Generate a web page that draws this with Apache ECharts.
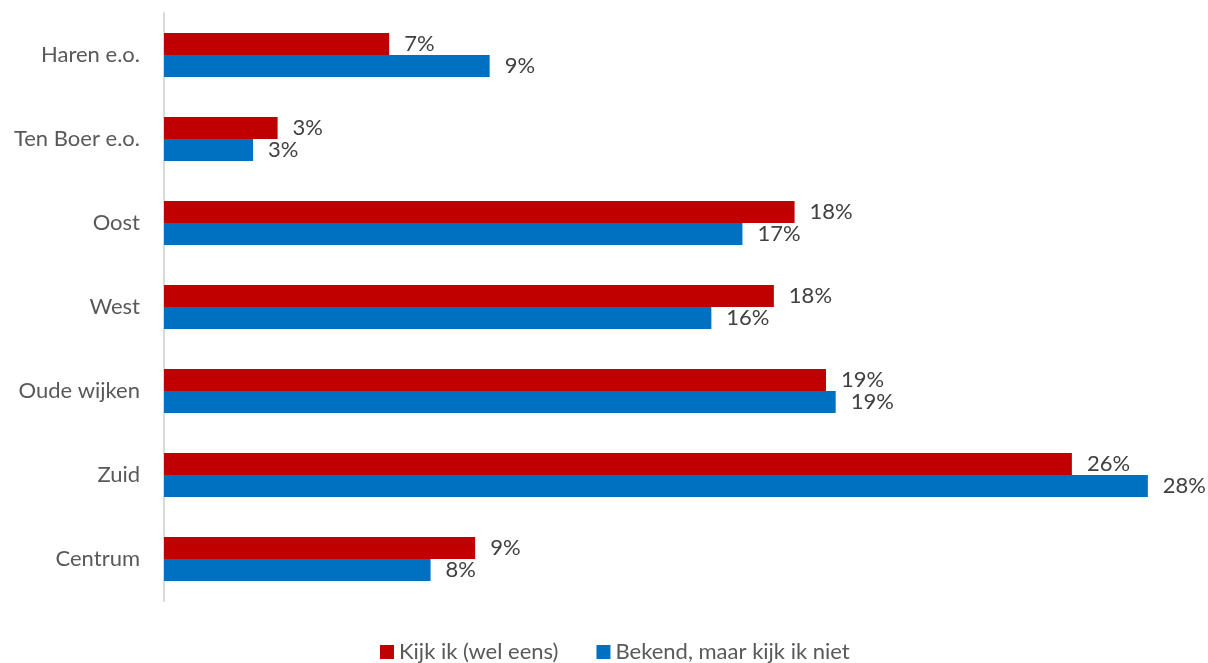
<!DOCTYPE html>
<html>
<head>
<meta charset="utf-8">
<script src="https://cdn.jsdelivr.net/npm/echarts@6/dist/echarts.min.js"></script>
<style>
  html, body { margin: 0; padding: 0; background: #fff; }
  #chart { width: 1208px; height: 663px; }
</style>
</head>
<body>
<div id="chart"></div>
<script>
// Regions, listed top to bottom
const categories = ['Haren e.o.', 'Ten Boer e.o.', 'Oost', 'West', 'Oude wijken', 'Zuid', 'Centrum'];
const seriesNames = ['Kijk ik (wel eens)', 'Bekend, maar kijk ik niet'];
// Share of respondents, in percent
const kijkIk = [6.52, 3.29, 18.26, 17.66, 19.17, 26.29, 9.01];
const bekendNiet = [9.43, 2.58, 16.75, 15.85, 19.45, 28.49, 7.72];

const FONT = 'Lato';
const FS = 22;

const chart = echarts.init(document.getElementById('chart'), null, { renderer: 'canvas' });

function barSeries(name, data, color) {
  return {
    name: name,
    type: 'bar',
    data: data,
    barWidth: 22,
    barGap: '0%',
    itemStyle: { color: color },
    label: {
      show: true,
      position: 'right',
      distance: 15,
      color: '#404040',
      fontFamily: FONT,
      fontSize: FS,
      formatter: p => Math.round(p.value) + '%'
    }
  };
}

chart.setOption({
  animation: false,
  textStyle: { fontFamily: FONT },
  grid: { left: 164, right: 8, top: 13, bottom: 62, containLabel: false },
  xAxis: {
    type: 'value',
    min: 0,
    max: 30,
    show: false,
    splitLine: { show: false }
  },
  yAxis: {
    type: 'category',
    data: categories,
    inverse: true,
    axisLine: { show: true, lineStyle: { color: '#d9d9d9', width: 2 } },
    axisTick: { show: false },
    axisLabel: { color: '#595959', fontFamily: FONT, fontSize: FS, margin: 24 }
  },
  legend: {
    top: 639,
    left: 380,
    padding: 0,
    itemWidth: 14,
    itemHeight: 14,
    itemGap: 38,
    icon: 'rect',
    textStyle: { color: '#595959', fontFamily: FONT, fontSize: FS, lineHeight: 26 }
  },
  series: [
    barSeries(seriesNames[0], kijkIk, '#C00000'),
    barSeries(seriesNames[1], bekendNiet, '#0070C0')
  ]
});
</script>
</body>
</html>
